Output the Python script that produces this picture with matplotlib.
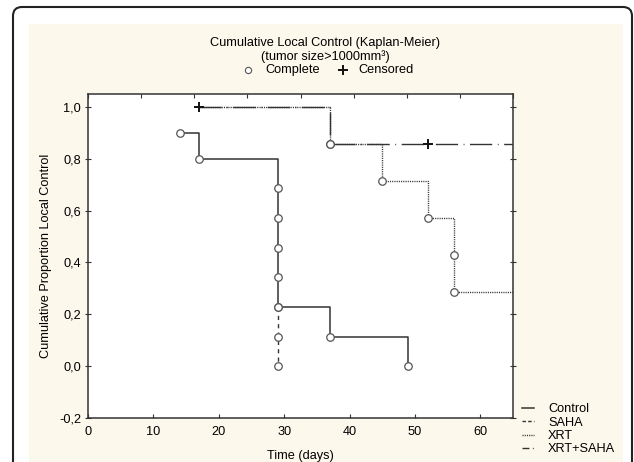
import numpy as np
import matplotlib
matplotlib.use("Agg")
import matplotlib.pyplot as plt
from matplotlib.lines import Line2D
from matplotlib.patches import FancyBboxPatch, Rectangle
from matplotlib.transforms import IdentityTransform

# ---------------- data ----------------
title = "Cumulative Local Control (Kaplan-Meier)"
subtitle = "(tumor size>1000mm³)"
series_names = ["Control", "SAHA", "XRT", "XRT+SAHA"]

ctrl_t = [14, 17, 29, 29, 29, 29, 29, 37, 49]
ctrl_s = [0.9, 0.8, 0.686, 0.571, 0.457, 0.343, 0.229, 0.114, 0.0]

saha_t = [29, 29, 29]
saha_s = [0.229, 0.114, 0.0]

xrt_start = 17
xrt_t = [37, 45, 52, 56, 56]
xrt_s = [0.857, 0.714, 0.571, 0.429, 0.286]

xs_start = 17
xs_t = [37]
xs_s = [0.857]
xs_cens_t = [17, 52]
xs_cens_s = [1.0, 0.857]

x_end = 65
xticks = [0, 10, 20, 30, 40, 50, 60]
yticks = [-0.2, 0.0, 0.2, 0.4, 0.6, 0.8, 1.0]
ytick_labels = ["-0,2", "0,0", "0,2", "0,4", "0,6", "0,8", "1,0"]

# ---------------- figure ----------------
plt.rcParams['font.family'] = ['Liberation Sans', 'DejaVu Sans']
FS = 9.2
W, H = 634, 462
fig = plt.figure(figsize=(W / 100, H / 100), dpi=100)
fig.patch.set_facecolor("white")

# outer rounded frame and cream panel (pixel coords, origin bottom-left)
frame = FancyBboxPatch((13, -20), 619, H - 7 + 20, boxstyle="round,pad=0,rounding_size=9",
                       transform=IdentityTransform(), facecolor="white",
                       edgecolor="#222222", linewidth=1.5, zorder=-2)
fig.patches.append(frame)
cream = Rectangle((29, -5), 594, H - 24 + 5, transform=IdentityTransform(),
                  facecolor="#fdf8ec", edgecolor="none", zorder=-1)
fig.patches.append(cream)

ax = fig.add_axes([88 / W, 1 - 418 / H, (513 - 88) / W, (418 - 94) / H])
ax.set_facecolor("white")

lc = "#333333"
# XRT+SAHA (long dash - dot)
xs_x = [xs_start] + xs_t + [x_end + 1]
xs_y = [1.0] + xs_s + [xs_s[-1]]
ax.plot(xs_x, xs_y, drawstyle="steps-post", color=lc, lw=1.0,
        dashes=(16, 4, 0.6, 4), zorder=2)
# XRT (dotted)
xrt_x = [xrt_start] + xrt_t + [x_end + 1]
xrt_y = [1.0] + xrt_s + [xrt_s[-1]]
ax.plot(xrt_x, xrt_y, drawstyle="steps-post", color=lc, lw=1.0,
        dashes=(0.8, 0.8), zorder=3)
# SAHA (dashed)
ax.plot(saha_t, saha_s, drawstyle="steps-post", color=lc, lw=1.0,
        dashes=(3, 3), zorder=3)
# Control (solid)
ax.plot(ctrl_t, ctrl_s, drawstyle="steps-post", color=lc, lw=1.1, zorder=4)

mk = dict(ls="none", marker="o", ms=5.4, mfc="white", mec="#555555", mew=0.9, zorder=6)
ax.plot(ctrl_t, ctrl_s, **mk)
ax.plot(saha_t, saha_s, **mk)
ax.plot(xrt_t, xrt_s, **mk)
ax.plot(xs_t, xs_s, **mk)
ax.plot(xs_cens_t, xs_cens_s, ls="none", marker="+", ms=7, mew=1.4, color="#111111", zorder=7)

ax.set_xlim(0, x_end)
ax.set_ylim(-0.2, 1.05)
ax.set_xticks(xticks)
ax.set_xticklabels([str(v) for v in xticks], fontsize=FS)
ax.set_yticks(yticks)
ax.set_yticklabels(ytick_labels, fontsize=FS)
ax.tick_params(axis="x", direction="in", length=3, width=0.8, color="#333333", pad=6)
ax.tick_params(axis="y", direction="inout", length=4, width=0.8, color="#333333", pad=3)
ax.tick_params(axis="y", right=True)
for s in ax.spines.values():
    s.set_linewidth(1.1)
    s.set_color("#333333")

ax2 = ax.twiny()
ax2.set_xlim(0, x_end)
ax2.set_xticks(np.linspace(0, x_end, 9))
ax2.set_xticklabels([])
ax2.tick_params(axis="x", direction="in", length=3, width=0.8, color="#333333")
for s in ax2.spines.values():
    s.set_visible(False)

ax.set_xlabel("Time (days)", fontsize=FS, labelpad=8.5)
ax.set_ylabel("Cumulative Proportion Local Control", fontsize=FS, labelpad=5)

tx = 325 / W
fig.text(tx, 1 - 43 / H, title, ha="center", va="center", fontsize=FS)
fig.text(tx, 1 - 57 / H, subtitle, ha="center", va="center", fontsize=FS)

# header key: "o Complete   + Censored"
hy = 1 - 70 / H
fig.add_artist(Line2D([248 / W], [hy], transform=fig.transFigure, ls="none", marker="o",
                      ms=4.5, mfc="white", mec="#555555", mew=0.8))
fig.text(265 / W, hy, "Complete", ha="left", va="center", fontsize=FS)
fig.add_artist(Line2D([343 / W], [hy], transform=fig.transFigure, ls="none", marker="+",
                      ms=6.5, mew=1.4, color="#111111"))
fig.text(358 / W, hy, "Censored", ha="left", va="center", fontsize=FS)

leg_handles = [
    Line2D([], [], color=lc, lw=1.1),
    Line2D([], [], color=lc, lw=1.0, dashes=(2.5, 1.6)),
    Line2D([], [], color=lc, lw=1.0, dashes=(0.8, 0.8)),
    Line2D([], [], color=lc, lw=1.0, dashes=(5, 2.5, 0.6, 3)),
]
fig.legend(leg_handles, series_names, loc="upper left", frameon=False,
           bbox_to_anchor=(522 / W, 1 - 403.5 / H), fontsize=FS, handlelength=0.95,
           handletextpad=1.1, labelspacing=0.1, borderpad=0, borderaxespad=0)

fig.savefig("out.png", dpi=100)
